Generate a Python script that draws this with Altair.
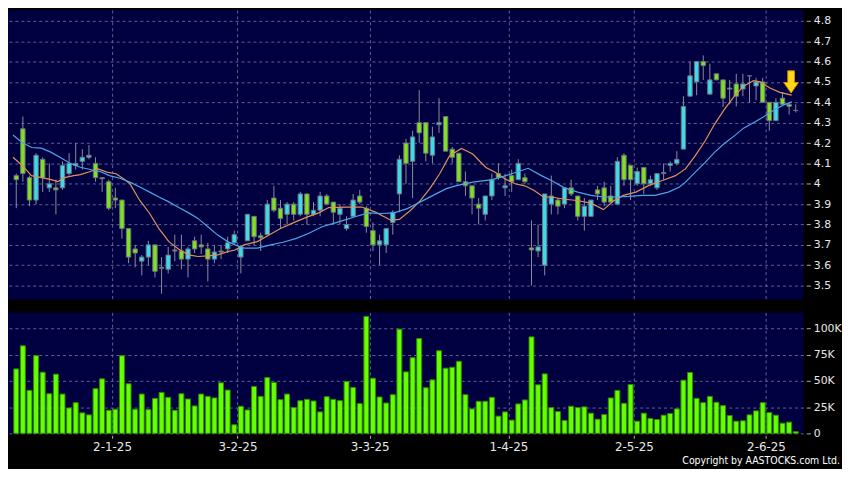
import altair as alt
import pandas as pd

# ---------------- data ----------------
opens = [4.04, 4.27, 4.03, 3.92, 4.12, 3.98, 3.98, 3.98, 4.05, 4.09,
         4.11, 4.13, 4.10, 4.03, 4.01, 3.93, 3.92, 3.78, 3.68, 3.62,
         3.64, 3.70, 3.59, 3.58, 3.675, 3.67, 3.63, 3.72, 3.70, 3.68,
         3.63, 3.67, 3.68, 3.71, 3.64, 3.72, 3.84, 3.745, 3.75, 3.93,
         3.88, 3.85, 3.90, 3.85, 3.95, 3.85, 3.87, 3.94, 3.91, 3.85,
         3.78, 3.84, 3.94, 3.88, 3.77, 3.70, 3.70, 3.81, 3.95, 4.20,
         4.11, 4.30, 4.30, 4.14, 4.29, 4.33, 4.17, 4.15, 4.01, 3.99,
         3.90, 3.85, 3.94, 4.05, 3.98, 4.04, 4.02, 4.03, 3.685, 3.67,
         3.60, 3.90, 3.92, 3.90, 3.98, 3.94, 3.84, 3.84, 3.97, 3.98,
         3.94, 3.90, 4.14, 4.09, 4.00, 4.08, 4.00, 3.98, 4.05, 4.09,
         4.10, 4.17, 4.43, 4.50, 4.60, 4.44, 4.54, 4.51, 4.465, 4.49,
         4.465, 4.53, 4.48, 4.50, 4.40, 4.31, 4.42, 4.39, 4.36]
highs = [4.05, 4.33, 4.04, 4.15, 4.13, 4.10, 4.02, 4.11, 4.15, 4.20,
         4.17, 4.19, 4.13, 4.03, 4.02, 3.98, 3.92, 3.78, 3.70, 3.65,
         3.72, 3.70, 3.64, 3.69, 3.75, 3.75, 3.69, 3.74, 3.75, 3.71,
         3.70, 3.70, 3.74, 3.77, 3.70, 3.85, 3.84, 3.76, 3.92, 3.99,
         3.92, 3.91, 3.91, 3.96, 3.95, 3.91, 3.96, 3.95, 3.91, 3.90,
         3.84, 3.95, 3.97, 3.89, 3.81, 3.75, 3.78, 3.87, 4.14, 4.22,
         4.26, 4.46, 4.30, 4.28, 4.42, 4.33, 4.18, 4.15, 4.06, 3.99,
         3.93, 3.94, 4.05, 4.10, 4.05, 4.07, 4.12, 4.05, 3.82, 3.80,
         3.95, 4.04, 3.93, 3.98, 4.02, 3.94, 3.93, 3.92, 3.99, 4.01,
         3.99, 4.13, 4.15, 4.09, 4.08, 4.08, 4.04, 4.05, 4.10, 4.11,
         4.16, 4.43, 4.60, 4.60, 4.63, 4.59, 4.54, 4.51, 4.51, 4.54,
         4.54, 4.53, 4.52, 4.52, 4.40, 4.42, 4.45, 4.40, 4.39]
lows = [3.88, 4.01, 3.89, 3.90, 3.96, 3.96, 3.85, 3.97, 4.04, 4.07,
        4.07, 4.12, 4.01, 3.96, 3.87, 3.88, 3.73, 3.61, 3.59, 3.55,
        3.60, 3.54, 3.46, 3.56, 3.62, 3.58, 3.54, 3.66, 3.655, 3.52,
        3.61, 3.63, 3.66, 3.70, 3.56, 3.72, 3.70, 3.67, 3.75, 3.86,
        3.78, 3.80, 3.82, 3.84, 3.80, 3.84, 3.84, 3.90, 3.80, 3.80,
        3.77, 3.84, 3.90, 3.76, 3.67, 3.60, 3.66, 3.75, 3.86, 4.00,
        3.93, 4.20, 4.11, 4.10, 4.25, 4.16, 4.10, 4.01, 3.94, 3.85,
        3.80, 3.82, 3.92, 4.02, 3.94, 3.96, 4.02, 4.00, 3.50, 3.64,
        3.55, 3.85, 3.85, 3.88, 3.94, 3.82, 3.77, 3.84, 3.92, 3.89,
        3.91, 3.90, 3.99, 3.92, 3.99, 3.95, 3.99, 3.97, 4.02, 4.06,
        4.09, 4.17, 4.43, 4.435, 4.51, 4.44, 4.51, 4.376, 4.39, 4.38,
        4.43, 4.40, 4.41, 4.40, 4.26, 4.31, 4.39, 4.34, 4.35]
closes = [4.02, 4.05, 3.92, 4.14, 4.03, 4.00, 3.97, 4.09, 4.10, 4.10,
          4.13, 4.14, 4.03, 4.025, 3.88, 3.92, 3.78, 3.64, 3.66, 3.64,
          3.70, 3.57, 3.585, 3.65, 3.67, 3.63, 3.68, 3.68, 3.69, 3.63,
          3.665, 3.665, 3.71, 3.75, 3.69, 3.85, 3.74, 3.735, 3.90, 3.87,
          3.83, 3.90, 3.85, 3.95, 3.85, 3.87, 3.94, 3.90, 3.86, 3.88,
          3.80, 3.92, 3.91, 3.79, 3.70, 3.72, 3.78, 3.86, 4.12, 4.10,
          4.23, 4.25, 4.15, 4.23, 4.30, 4.16, 4.13, 4.01, 3.99, 3.93,
          3.88, 3.94, 4.02, 4.03, 3.99, 4.01, 4.10, 4.01, 3.675, 3.69,
          3.95, 3.94, 3.89, 3.98, 3.95, 3.84, 3.89, 3.92, 3.95, 3.91,
          3.91, 4.11, 4.02, 4.02, 4.06, 4.00, 4.02, 4.05, 4.055, 4.10,
          4.12, 4.38, 4.53, 4.60, 4.58, 4.51, 4.51, 4.42, 4.47, 4.43,
          4.49, 4.53, 4.50, 4.40, 4.31, 4.40, 4.39, 4.38, 4.36]
volumes = [61300, 83300, 40900, 73900, 58200, 37700, 56300, 37400, 24200, 29200,
           19500, 17600, 42500, 51900, 22000, 23000, 73900, 47200, 23000, 37400,
           22600, 33300, 39000, 34300, 22000, 37700, 32700, 26100, 37400, 35200,
           33700, 48100, 41200, 8200, 25800, 22300, 44700, 35200, 53100, 48400,
           32100, 37400, 24500, 31100, 32400, 30800, 20400, 34900, 32400, 31100,
           49400, 43700, 28300, 111300, 52500, 34600, 28900, 36800, 99100, 58500,
           72000, 90300, 43400, 50900, 78600, 62000, 62900, 68600, 36800, 23300,
           30500, 30500, 34300, 16400, 20400, 12600, 28000, 31800, 91800, 46200,
           56600, 24500, 20800, 12300, 25800, 24500, 25200, 19200, 13500, 17900,
           33700, 40900, 28600, 46500, 11600, 19200, 14200, 13200, 17300, 18900,
           23300, 50600, 57900, 33300, 29200, 35200, 29600, 26400, 17000, 11600,
           12000, 17600, 21400, 29200, 19800, 17300, 9700, 10700, 1600]

ma_short_idx = [-0.5, 0.9, 2.3, 3.8, 5.3, 6.3, 7.3, 8.7, 9.7, 11.2, 12.4, 13.7, 15.1,
                16.3, 17.2, 18.7, 20.2, 21.6, 23.1, 24.6, 26.1, 27.5, 29, 30.5, 32,
                33.1, 34.5, 36.5, 38, 40, 41.9, 43.9, 45.8, 47.3, 50, 52.3, 54.3,
                56.7, 58, 59.7, 61.2, 62.6, 64.1, 65.6, 67.4, 69.1, 71.1, 72.5, 74,
                75.5, 77, 78.4, 79.8, 81, 83, 84.9, 87, 88.9, 90.4, 91.9, 93.8, 95.8,
                97.8, 99.8, 101.3, 102.8, 104.3, 105.7, 107.2, 108.7, 110.1, 111.6,
                112.6, 114.1, 115.6, 117.4]
ma_short_val = [4.13, 4.09, 4.04, 4.03, 4.02, 4.011, 4.03, 4.04, 4.045, 4.06, 4.073, 4.057,
                4.049, 4.024, 4.0, 3.918, 3.854, 3.78, 3.716, 3.679, 3.651, 3.643, 3.646,
                3.651, 3.667, 3.675, 3.70, 3.716, 3.744, 3.78, 3.808, 3.835, 3.857, 3.883,
                3.885, 3.886, 3.862, 3.821, 3.825, 3.87, 3.918, 3.976, 4.049, 4.138, 4.173,
                4.146, 4.08, 4.057, 4.024, 4.0, 3.99, 3.967, 3.935, 3.935, 3.924, 3.918,
                3.905, 3.873, 3.915, 3.943, 3.959, 3.992, 4.016, 4.04, 4.073, 4.138, 4.211,
                4.292, 4.365, 4.43, 4.479, 4.506, 4.50, 4.47, 4.449, 4.435]
ma_long_idx = [-0.5, 0.9, 2.3, 3.8, 5.3, 6.8, 8.2, 9.7, 11.2, 12.7, 14.1, 15.7, 17.2,
               18.7, 20.2, 21.6, 23.1, 24.6, 26.1, 27.5, 29, 30.5, 32, 33.1, 34.5, 36.5,
               38.5, 40.4, 42.4, 44.3, 46.3, 48.3, 50, 51.3, 53.3, 55.3, 57.2, 59.2,
               61.2, 63.1, 65.1, 66.8, 69.1, 72.1, 75.0, 77.5, 79.5, 81, 83, 85, 87,
               88.9, 90.8, 92.8, 94.8, 96.7, 98.7, 100.4, 101.3, 102.8, 104.3, 105.7,
               107.2, 108.7, 110.1, 111.6, 113.1, 114.6, 116.1, 117.4]
ma_long_val = [4.239, 4.203, 4.178, 4.175, 4.154, 4.127, 4.10, 4.081, 4.07, 4.06, 4.04,
               4.027, 4.008, 3.984, 3.959, 3.935, 3.911, 3.883, 3.857, 3.83, 3.789, 3.748,
               3.716, 3.70, 3.684, 3.684, 3.70, 3.713, 3.732, 3.757, 3.789, 3.808, 3.825,
               3.838, 3.857, 3.854, 3.857, 3.878, 3.911, 3.943, 3.976, 3.992, 4.008, 4.02,
               4.049, 4.076, 4.04, 4.016, 3.98, 3.959, 3.943, 3.935, 3.935, 3.938, 3.943,
               3.943, 3.959, 3.984, 4.008, 4.057, 4.105, 4.154, 4.198, 4.235, 4.273, 4.30,
               4.328, 4.36, 4.386, 4.402]

price_ticks = [3.5, 3.6, 3.7, 3.8, 3.9, 4.0, 4.1, 4.2, 4.3, 4.4, 4.5, 4.6, 4.7, 4.8]
vol_ticks = [0, 25000, 50000, 75000, 100000]
date_tick_idx = [14.5, 33.5, 53.5, 74.5, 93.5, 113.5]
date_tick_labels = ["2-1-25", "3-2-25", "3-3-25", "1-4-25", "2-5-25", "2-6-25"]
arrow_idx = [117.3]
arrow_price = [4.50]
copyright_text = ["Copyright by AASTOCKS.com Ltd."]

# ---------------- styling ----------------
W = 802
PH = 292
VH = 122
X_DOMAIN = [-0.5, 118.4]
P_DOMAIN = [3.4318, 4.8536]
V_DOMAIN = [0, 115100]
FONT = "DejaVu Sans"
CYAN = "#3adcec"
GREEN = "#7fe21f"
GREY = "#9a9aa6"
VOL_GREEN = "#66ff00"

candles = pd.DataFrame({
    "idx": list(range(len(opens))),
    "open": opens, "high": highs, "low": lows, "close": closes,
})
vol_df = pd.DataFrame({"idx": list(range(len(volumes))), "vol": volumes})
ma_s = pd.DataFrame({"idx": ma_short_idx, "val": ma_short_val})
ma_l = pd.DataFrame({"idx": ma_long_idx, "val": ma_long_val})
arrow_df = pd.DataFrame({"idx": arrow_idx, "price": arrow_price})
copy_df = pd.DataFrame({"t": copyright_text})

label_expr = " : ".join(
    f"datum.value == {v} ? '{l}'" for v, l in zip(date_tick_idx, date_tick_labels)
) + " : ''"

x_main = alt.X("idx:Q", scale=alt.Scale(domain=X_DOMAIN, nice=False, zero=False),
               axis=alt.Axis(values=date_tick_idx, tickCount=40, labels=False, ticks=False,
                             domain=False, grid=True, title=None))
y_price_axis = alt.Axis(orient="right", values=price_ticks, tickCount=40, format=".1~f",
                        title=None, grid=True, offset=3, tickSize=4, labelPadding=3,
                        domain=False, labelOverlap=False, labelBound=False, labelFlush=False)
p_scale = alt.Scale(domain=P_DOMAIN, nice=False, zero=False)

base = alt.Chart(candles).transform_calculate(
    dir="datum.close > datum.open ? 'up' : (datum.close < datum.open ? 'down' : 'flat')"
)

wicks = base.mark_rule(color="#8c8c9c", strokeWidth=1).encode(
    x=x_main,
    y=alt.Y("low:Q", scale=p_scale, axis=y_price_axis),
    y2="high:Q",
)
bodies = base.mark_bar(size=4.4, stroke="#70707c", strokeWidth=1).encode(
    x=alt.X("idx:Q"),
    y=alt.Y("open:Q"),
    y2="close:Q",
    color=alt.Color("dir:N", scale=alt.Scale(domain=["up", "down", "flat"],
                                             range=[CYAN, GREEN, GREY]), legend=None),
)
line_s = alt.Chart(ma_s).mark_line(color="#e0905a", strokeWidth=1.2).encode(
    x="idx:Q", y="val:Q")
line_l = alt.Chart(ma_l).mark_line(color="#4aa6e6", strokeWidth=1.2).encode(
    x="idx:Q", y="val:Q")
arrow = alt.Chart(arrow_df).mark_point(
    shape="M-0.3,-1 L0.3,-1 L0.3,0.05 L0.66,0.05 L0,1 L-0.66,0.05 L-0.3,0.05 Z",
    size=500, filled=True, fill="#ffd817", stroke="#d98c00", strokeWidth=1, opacity=1,
).encode(x="idx:Q", y="price:Q")

price = alt.layer(wicks, bodies, line_s, line_l, arrow).properties(width=W, height=PH)

x_vol = alt.X("idx:Q", scale=alt.Scale(domain=X_DOMAIN, nice=False, zero=False),
              axis=alt.Axis(values=date_tick_idx, tickCount=40, labelExpr=label_expr,
                            grid=True, domain=False, ticks=True, tickSize=3, offset=2,
                            labelPadding=3, labelFontSize=12, title=None,
                            labelOverlap=False))
vol_bars = alt.Chart(vol_df).mark_bar(size=5.0, color=VOL_GREEN, stroke="#2e8a00",
                                      strokeWidth=1).encode(
    x=x_vol,
    y=alt.Y("vol:Q", scale=alt.Scale(domain=V_DOMAIN, nice=False),
            axis=alt.Axis(orient="right", values=vol_ticks, tickCount=40, title=None,
                          grid=True, offset=3, tickSize=4, labelPadding=3, domain=False,
                          labelOverlap=False,
                          labelExpr="datum.value == 0 ? '0' : (datum.value / 1000) + 'K'")),
)
copy_txt = alt.Chart(copy_df).mark_text(
    align="right", baseline="alphabetic", font="DejaVu Sans Condensed, DejaVu Sans",
    fontSize=10.5, color="#ffffff"
).encode(x=alt.value(W + 37), y=alt.value(VH + 31), text="t:N")

volume = alt.layer(vol_bars, copy_txt).properties(width=W, height=VH)

chart = alt.vconcat(price, volume, spacing=13).resolve_scale(
    x="independent", y="independent", color="independent"
).properties(
    padding=0, background="#000000"
).configure_view(
    fill="#000040", stroke="#000040", strokeWidth=0
).configure_axis(
    labelFont=FONT, labelColor="#e8e8e8", labelFontSize=11,
    gridColor="#6c6ca0", gridDash=[3, 3], gridWidth=1, gridOpacity=0.9,
    tickColor="#b0b0b0",
)

chart.save("out.html", embed_options={"renderer": "svg", "actions": False})
